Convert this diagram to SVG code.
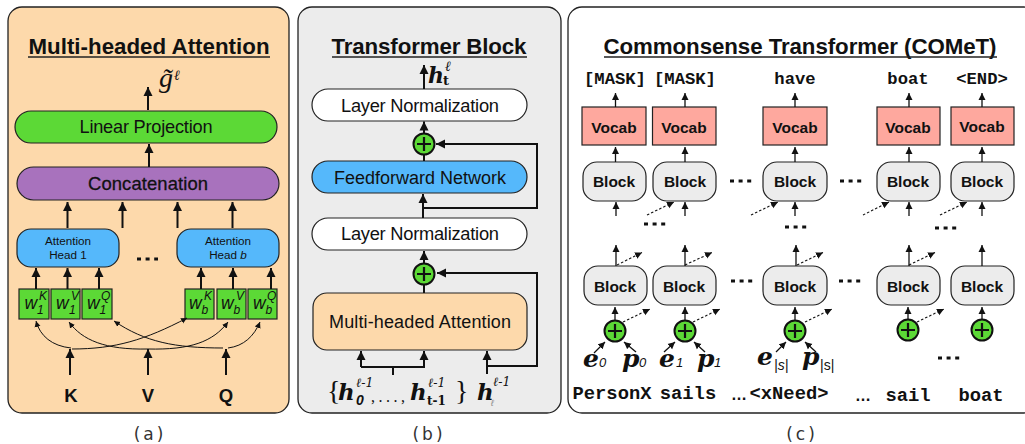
<svg xmlns="http://www.w3.org/2000/svg" width="1025" height="444" viewBox="0 0 1025 444">
<style>
text{font-family:"Liberation Sans",Arial,sans-serif;fill:#111}
.title{font-size:22.300px;font-weight:bold;text-anchor:middle}
.lab{text-anchor:middle}
.m{font-family:"Liberation Mono","Courier New",monospace;font-weight:bold;text-anchor:middle}
.cap{font-family:"DejaVu Sans",sans-serif;font-size:17px;text-anchor:middle;letter-spacing:3px;fill:#333}
.bi{font-family:"DejaVu Serif",serif;font-weight:bold;font-style:italic}
.sub{font-family:"Liberation Sans",sans-serif;font-style:italic}
.sup{font-family:"DejaVu Serif",serif;font-style:italic;font-size:12.500px}
.ell{font-family:"DejaVu Serif",serif;font-style:italic;font-size:14px}
.w{font-size:17.500px;font-style:italic}
.ws{font-size:12px;font-style:italic}
.b{font-size:15.500px;font-weight:bold;text-anchor:middle}
.ul{stroke:#222;stroke-width:1.4;fill:none}
.node{stroke:#222;stroke-width:1.2}
.t{stroke:#111;stroke-width:2;fill:none;marker-end:url(#big)}
.n{stroke:#111;stroke-width:1.3;fill:none;marker-end:url(#small)}
.d{stroke:#111;stroke-width:1.1;stroke-dasharray:2.5 2;fill:none;marker-end:url(#small)}
.c{stroke:#111;stroke-width:1;fill:none;marker-end:url(#tiny)}
.l{stroke:#111;stroke-width:2;fill:none}
.dot{stroke:#111;stroke-width:3.2;stroke-dasharray:4 4.6;fill:none}
.plus{fill:#5cd936;stroke:#111;stroke-width:2}
.pl{stroke:#111;stroke-width:2.2;fill:none}
</style>
<defs>
<marker id="big" markerUnits="userSpaceOnUse" markerWidth="10" markerHeight="10" refX="9" refY="5" orient="auto"><path d="M0 0.5L9 5L0 9.500Z" fill="#111"/></marker>
<marker id="small" markerUnits="userSpaceOnUse" markerWidth="8" markerHeight="8" refX="7" refY="4" orient="auto"><path d="M0 0.5L7 4L0 7.500Z" fill="#111"/></marker>
<marker id="tiny" markerUnits="userSpaceOnUse" markerWidth="7" markerHeight="7" refX="6" refY="3.5" orient="auto"><path d="M0 0.5L6 3.500L0 6.500Z" fill="#111"/></marker>
</defs>

<g id="panel-a">
<rect x="8" y="7" width="281" height="406" rx="14" fill="#fdd9ab" stroke="#222" stroke-width="1.3"/>
<text class="title" x="149" y="54" textLength="241">Multi-headed Attention</text>
<line class="ul" x1="28" y1="57" x2="270" y2="57"/>
<text x="159" y="87" style="font-family:'Liberation Serif',serif;font-style:italic;font-size:28px">g̃</text>
<text class="ell" x="174" y="80">ℓ</text>
</g>
<g id="linear-projection"><rect class="node" x="15" y="111" width="262" height="32" rx="16" fill="#5cd936"/><text class="lab" x="146" y="133" font-size="18.200" textLength="133">Linear Projection</text></g>
<g id="concatenation"><rect class="node" x="17" y="167" width="262" height="33" rx="16.500" fill="#a872bd"/><text class="lab" x="148" y="190" font-size="18.400" textLength="120" stroke="#111" stroke-width=".3">Concatenation</text></g>
<g id="head-1"><rect class="node" x="17" y="229" width="102" height="38" rx="14" fill="#55b8fb"/><text class="lab" x="68" y="245" font-size="11.700">Attention</text><text class="lab" x="68" y="259" font-size="11.700">Head 1</text></g>
<g id="head-b"><rect class="node" x="177" y="229" width="102" height="38" rx="14" fill="#55b8fb"/><text class="lab" x="228" y="245" font-size="11.700">Attention</text><text class="lab" x="228" y="259" font-size="11.700">Head <tspan font-style="italic">b</tspan></text></g>
<g id="w1k"><rect class="node" x="19" y="289" width="30" height="30" fill="#5cd936"/><text class="w" x="24.500" y="309">w</text><text class="ws" x="37" y="314">1</text><text class="ws" x="39" y="300">K</text></g>
<g id="w1v"><rect class="node" x="51" y="289" width="29" height="30" fill="#5cd936"/><text class="w" x="56" y="309">w</text><text class="ws" x="69" y="314">1</text><text class="ws" x="71" y="300">V</text></g>
<g id="w1q"><rect class="node" x="82" y="289" width="30" height="30" fill="#5cd936"/><text class="w" x="87" y="309">w</text><text class="ws" x="99.500" y="314">1</text><text class="ws" x="101" y="300">Q</text></g>
<g id="wbk"><rect class="node" x="185" y="289" width="29" height="30" fill="#5cd936"/><text class="w" x="189" y="309">w</text><text class="ws" x="201.500" y="314">b</text><text class="ws" x="204" y="300">K</text></g>
<g id="wbv"><rect class="node" x="217" y="289" width="29" height="30" fill="#5cd936"/><text class="w" x="221" y="309">w</text><text class="ws" x="233.500" y="314">b</text><text class="ws" x="236" y="300">V</text></g>
<g id="wbq"><rect class="node" x="248" y="289" width="29" height="30" fill="#5cd936"/><text class="w" x="253" y="309">w</text><text class="ws" x="265.500" y="314">b</text><text class="ws" x="267" y="300">Q</text></g>
<g id="kvq">
<text class="lab" x="71" y="402" font-size="18.500" font-weight="bold">K</text>
<text class="lab" x="148" y="402" font-size="18.500" font-weight="bold">V</text>
<text class="lab" x="226" y="402" font-size="18.500" font-weight="bold">Q</text>
<line class="dot" x1="137" y1="259" x2="158" y2="259"/>
<text class="cap" x="150" y="440">(a)</text>
</g>

<g id="panel-b">
<rect x="298" y="7" width="263" height="406" rx="14" fill="#ececec" stroke="#222" stroke-width="1.300"/>
<text class="title" x="429" y="54" textLength="195">Transformer Block</text>
<line class="ul" x1="332" y1="57" x2="527" y2="57"/>
<text class="bi" x="428" y="83" font-size="22">h</text>
<text x="443" y="85" style="font-family:'DejaVu Serif',serif;font-weight:bold;font-size:13px">t</text>
<text class="ell" x="445" y="71">ℓ</text>
</g>
<g id="ln-top"><rect class="node" x="312" y="89" width="215" height="32" rx="16" fill="#fff"/><text class="lab" x="420" y="112" font-size="18.300" textLength="158">Layer Normalization</text></g>
<g id="ffn"><rect class="node" x="312" y="161" width="215" height="32" rx="16" fill="#55b8fb"/><text class="lab" x="420" y="184" font-size="18" textLength="172">Feedforward Network</text></g>
<g id="ln-bottom"><rect class="node" x="312" y="218" width="215" height="32" rx="16" fill="#fff"/><text class="lab" x="420" y="240" font-size="18.300" textLength="158">Layer Normalization</text></g>
<g id="mha"><rect class="node" x="313" y="293" width="214" height="57" rx="14" fill="#fdd9ab"/><text class="lab" x="420" y="328" font-size="18" textLength="182">Multi-headed Attention</text></g>
<g id="plus-b1"><circle class="plus" cx="424" cy="144" r="10.500"/><path class="pl" d="M417 144H431M424 137V151"/></g>
<g id="plus-b2"><circle class="plus" cx="424" cy="274" r="10.500"/><path class="pl" d="M417 274H431M424 267V281"/></g>
<g id="labels-b">
<text x="327" y="400" style="font-family:'Liberation Serif',serif;font-size:28px">{</text>
<text class="bi" x="338" y="400" font-size="23">h</text>
<text class="sub" x="356" y="405" font-size="14" font-weight="bold">0</text>
<text class="sup" x="356" y="387">ℓ-1</text>
<text x="371" y="402" style="font-family:'Liberation Serif',serif;font-size:16px;letter-spacing:3.500px">,...,</text>
<text class="bi" x="410" y="400" font-size="23">h</text>
<text x="427" y="405" style="font-family:'DejaVu Serif',serif;font-weight:bold;font-size:12px">t-1</text>
<text class="sup" x="428" y="387">ℓ-1</text>
<text x="455" y="400" style="font-family:'Liberation Serif',serif;font-size:28px">}</text>
<text class="bi" x="477" y="400" font-size="23">h</text>
<text x="491" y="406" style="font-family:'Liberation Sans',sans-serif;font-style:italic;font-size:9px;fill:#888">ℓ</text>
<text class="sup" x="493" y="386">ℓ-1</text>
<text class="cap" x="429" y="440">(b)</text>
</g>

<g id="panel-c">
<rect x="568" y="7" width="470" height="406" rx="14" fill="#fff" stroke="#222" stroke-width="1.300"/>
<text class="title" x="800" y="54" textLength="393">Commonsense Transformer (COMeT)</text>
<line class="ul" x1="604" y1="57" x2="997" y2="57"/>
<g font-size="17.200">
<text class="m" x="615" y="84">[MASK]</text><text class="m" x="685" y="84">[MASK]</text><text class="m" x="795" y="84">have</text><text class="m" x="908" y="84">boat</text><text class="m" x="982" y="84">&lt;END&gt;</text>
</g>
</g>
<g id="vocab-1"><rect class="node" x="582" y="107" width="64" height="38" fill="#fea89e"/><text class="b" x="614" y="133">Vocab</text></g>
<g id="vocab-2"><rect class="node" x="652.500" y="107" width="63.500" height="38" fill="#fea89e"/><text class="b" x="684" y="133">Vocab</text></g>
<g id="vocab-3"><rect class="node" x="763" y="107" width="64" height="38" fill="#fea89e"/><text class="b" x="795" y="133">Vocab</text></g>
<g id="vocab-4"><rect class="node" x="877" y="107" width="63" height="38" fill="#fea89e"/><text class="b" x="908" y="133">Vocab</text></g>
<g id="vocab-5"><rect class="node" x="951" y="107" width="63" height="38" fill="#fea89e"/><text class="b" x="982" y="132">Vocab</text></g>
<g id="block-u1"><rect class="node" x="583" y="162" width="63" height="39" rx="14" fill="#ececec"/><text class="b" x="614" y="187">Block</text></g>
<g id="block-u2"><rect class="node" x="653" y="162" width="63" height="39" rx="14" fill="#ececec"/><text class="b" x="685" y="187">Block</text></g>
<g id="block-u3"><rect class="node" x="763" y="162" width="64" height="39" rx="14" fill="#ececec"/><text class="b" x="795" y="187">Block</text></g>
<g id="block-u4"><rect class="node" x="877" y="162" width="63" height="39" rx="14" fill="#ececec"/><text class="b" x="908" y="187">Block</text></g>
<g id="block-u5"><rect class="node" x="951" y="162" width="63" height="39" rx="14" fill="#ececec"/><text class="b" x="982" y="187">Block</text></g>
<g id="block-l1"><rect class="node" x="584" y="266" width="63" height="39" rx="14" fill="#ececec"/><text class="b" x="615" y="292">Block</text></g>
<g id="block-l2"><rect class="node" x="653" y="266" width="63" height="39" rx="14" fill="#ececec"/><text class="b" x="684" y="292">Block</text></g>
<g id="block-l3"><rect class="node" x="763" y="266" width="64" height="39" rx="14" fill="#ececec"/><text class="b" x="795" y="292">Block</text></g>
<g id="block-l4"><rect class="node" x="877" y="266" width="63" height="39" rx="14" fill="#ececec"/><text class="b" x="908" y="292">Block</text></g>
<g id="block-l5"><rect class="node" x="951" y="266" width="63" height="39" rx="14" fill="#ececec"/><text class="b" x="982" y="292">Block</text></g>
<g id="plus-c1"><circle class="plus" cx="615" cy="331" r="10.500"/><path class="pl" d="M608 331H622M615 324V338"/></g>
<g id="plus-c2"><circle class="plus" cx="685" cy="331" r="10.500"/><path class="pl" d="M678 331H692M685 324V338"/></g>
<g id="plus-c3"><circle class="plus" cx="795" cy="331" r="10.500"/><path class="pl" d="M788 331H802M795 324V338"/></g>
<g id="plus-c4"><circle class="plus" cx="908" cy="330" r="10.500"/><path class="pl" d="M901 330H915M908 323V337"/></g>
<g id="plus-c5"><circle class="plus" cx="982" cy="330" r="10.500"/><path class="pl" d="M975 330H989M982 323V337"/></g>
<g id="labels-c">
<text class="bi" x="583" y="367" font-size="25">e</text><text class="sub" x="599" y="367" font-size="13">0</text>
<text class="bi" x="622" y="367" font-size="25">p</text><text class="sub" x="639" y="367" font-size="13">0</text>
<text class="bi" x="659" y="367" font-size="25">e</text><text class="sub" x="676" y="367" font-size="13">1</text>
<text class="bi" x="697" y="367" font-size="25">p</text><text class="sub" x="714" y="367" font-size="13">1</text>
<text class="bi" x="757" y="365" font-size="25">e</text><text class="sub" x="774" y="370" font-size="14">|s|</text>
<text class="bi" x="802" y="365" font-size="25">p</text><text x="820" y="370" font-size="14">|s|</text>
<g font-size="18.800">
<text class="m" x="612" y="399">PersonX</text><text class="m" x="688" y="399">sails</text><text class="m" x="789" y="399">&lt;xNeed&gt;</text><text class="m" x="908" y="401">sail</text><text class="m" x="981" y="401">boat</text>
</g>
<text x="731" y="400" font-size="16" font-weight="bold">…</text><text x="855" y="401" font-size="16" font-weight="bold">…</text>
<path class="dot" d="M730 181H752M840 181H862M644 224H666M785 227H807M935 228H957M731 281H753M839 281H861M938 358H960"/>
<text class="cap" x="802" y="440">(c)</text>
</g>

<g id="connectors">
<path class="t" d="M148 110V87"/><path class="t" d="M149 167V144"/>
<path class="t" d="M67.500 228V202"/><path class="t" d="M122.500 228V202"/><path class="t" d="M177.500 228V202"/><path class="t" d="M232.500 228V202"/>
<path class="t" d="M36 289V268"/><path class="t" d="M67.500 289V268"/><path class="t" d="M99 289V268"/>
<path class="t" d="M201 289V268"/><path class="t" d="M233 289V268"/><path class="t" d="M271 289V268"/>
<path class="t" d="M70 375V349"/><path class="t" d="M148 375V349"/><path class="t" d="M226 375V349"/>
<path class="c" d="M71 348C52 346 40 336 36 321"/>
<path class="c" d="M72 349C115 349 145 340 187 318"/>
<path class="c" d="M148 349C105 350 82 340 69 322"/>
<path class="c" d="M148 349C190 350 213 342 228 322"/>
<path class="c" d="M223 348C175 348 145 342 114 321"/>
<path class="c" d="M228 348C244 346 254 336 260 322"/>

<path class="t" d="M424 89V65"/><path class="t" d="M424 133V121.500"/><path class="l" d="M424 161V154"/>
<path class="t" d="M423 218V194"/><path class="t" d="M423 208H537V144H436"/>
<path class="t" d="M424 263V251"/><path class="l" d="M424 293V284"/>
<path class="t" d="M487 374V351"/><path class="t" d="M487 366H537V273H437"/>
<path class="t" d="M361 367V351"/><path class="t" d="M361 367H424V351"/><path class="l" d="M393 367V375"/>

<path class="n" d="M615.500 107V93"/><path class="n" d="M685 107V93"/><path class="n" d="M795 107V93"/><path class="n" d="M909 107V93"/><path class="n" d="M982 107V93"/>
<path class="n" d="M615.500 162V147"/><path class="n" d="M685 162V147"/><path class="n" d="M795 162V147"/><path class="n" d="M909 162V147"/><path class="n" d="M982 162V147"/>
<path class="n" d="M616 216V202"/><path class="n" d="M685 216V202"/><path class="n" d="M795 216V202"/><path class="n" d="M909 216V202"/><path class="n" d="M982 216V202"/>
<path class="d" d="M647 215L674 202"/><path class="d" d="M751 215L778 202"/><path class="d" d="M863 215L889 202"/><path class="d" d="M940 215L967 202"/>
<path class="n" d="M616 266V245"/><path class="n" d="M685 266V245"/><path class="n" d="M796 266V245"/><path class="n" d="M909 266V245"/><path class="n" d="M982 266V245"/>
<path class="d" d="M617 265L642 252.500"/><path class="d" d="M685 265L712 252.500"/><path class="d" d="M797 265L823 252.500"/><path class="d" d="M909 265L935 252.500"/>
<path class="n" d="M615 320V307"/><path class="n" d="M685 320V307"/><path class="n" d="M795 320V307"/><path class="n" d="M908 319V307"/><path class="n" d="M982 319V307"/>
<path class="d" d="M623 322L650 309"/><path class="d" d="M693 322L720 309"/><path class="d" d="M805 322L832 309"/><path class="d" d="M917 322L944 309"/>
<path class="n" d="M594 353L605 342"/><path class="n" d="M636 352L624 342"/><path class="n" d="M664 352L675 342"/><path class="n" d="M705 352L694 342"/><path class="n" d="M776 352L786 342"/><path class="n" d="M816 352L805 342"/>
</g>
</svg>
